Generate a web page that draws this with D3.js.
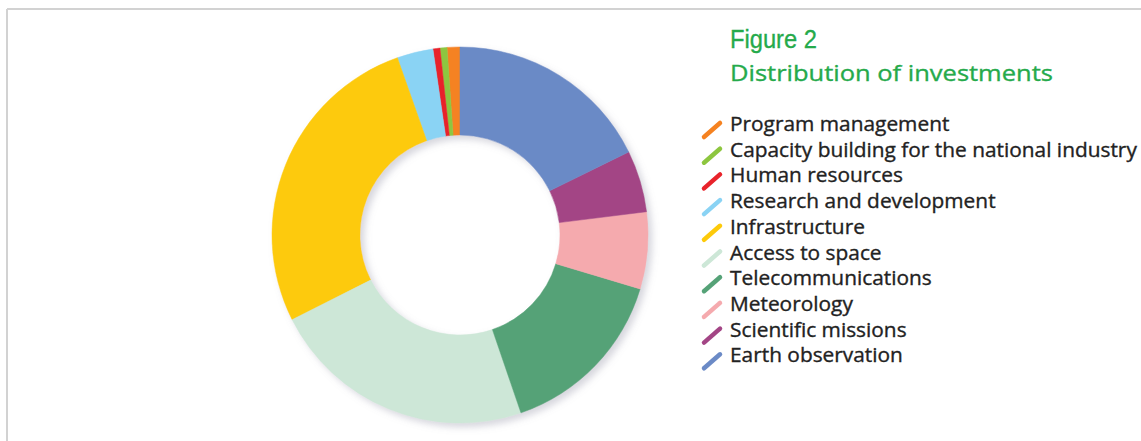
<!DOCTYPE html>
<html>
<head>
<meta charset="utf-8">
<script src="https://cdn.jsdelivr.net/npm/d3@7"></script>
<style>
  html, body { margin: 0; padding: 0; background: #fff; }
  svg { display: block; }
</style>
</head>
<body>
<svg id="chart" width="1141" height="441"></svg>
<script>
// ---- Data (legend order) ----
const categories = [
  "Program management",
  "Capacity building for the national industry",
  "Human resources",
  "Research and development",
  "Infrastructure",
  "Access to space",
  "Telecommunications",
  "Meteorology",
  "Scientific missions",
  "Earth observation"
];
const values = [1.1, 0.6, 0.6, 3.1, 27.0, 22.8, 15.1, 6.6, 5.3, 17.7];
const colors = ["#F58220", "#8DC63F", "#E8232B", "#8AD3F4", "#FDCA0A",
                "#CDE7D7", "#55A277", "#F5AAAE", "#A34585", "#6B8AC6"];
const titleLine1 = "Figure 2";
const titleLine2 = "Distribution of investments";

const svg = d3.select("#chart");

// frame lines
svg.append("line").attr("x1", 7).attr("y1", 9).attr("x2", 1141).attr("y2", 9)
  .attr("stroke", "#d2d2d2").attr("stroke-width", 2);
svg.append("line").attr("x1", 7).attr("y1", 9).attr("x2", 7).attr("y2", 441)
  .attr("stroke", "#d2d2d2").attr("stroke-width", 2);

// shadow filter
const defs = svg.append("defs");
const f = defs.append("filter").attr("id", "shadow")
  .attr("x", "-20%").attr("y", "-20%").attr("width", "140%").attr("height", "140%");
f.append("feDropShadow").attr("dx", 4).attr("dy", 4).attr("stdDeviation", 3.5)
  .attr("flood-color", "#8a8aa0").attr("flood-opacity", 0.35);

// donut: pie drawn clockwise from 12 o'clock in reverse legend order
const cx = 460, cy = 235, rOuter = 188, rInner = 100;
const data = categories.map((c, i) => ({ name: c, value: values[i], color: colors[i], idx: i }));
const pie = d3.pie().value(d => d.value).sort((a, b) => b.idx - a.idx);
const arc = d3.arc().innerRadius(rInner).outerRadius(rOuter);

const g = svg.append("g").attr("transform", `translate(${cx},${cy})`)
  .attr("filter", "url(#shadow)");
g.selectAll("path").data(pie(data)).join("path")
  .attr("d", arc)
  .attr("fill", d => d.data.color)
  .attr("stroke", d => d.data.color)
  .attr("stroke-width", 0.5);

// helper: horizontally fit a text element to a target width keeping glyph height
function fitX(sel, x, y, targetW) {
  const w = sel.node().getComputedTextLength();
  const k = w > 0 ? targetW / w : 1;
  sel.attr("x", 0).attr("y", 0)
    .attr("transform", `translate(${x},${y}) scale(${k},1)`);
}

// titles
const green = "#25AA4B";
const t1 = svg.append("text")
  .attr("font-family", "'Liberation Sans Narrow', 'Arial Narrow', 'Liberation Sans', sans-serif")
  .attr("font-size", 25).attr("fill", green)
  .attr("stroke", green).attr("stroke-width", 0.3)
  .text(titleLine1);
fitX(t1, 730, 48, 87);
const t2 = svg.append("text")
  .attr("font-family", "'Open Sans', 'Noto Sans', sans-serif")
  .attr("font-size", 22.5).attr("fill", green)
  .attr("stroke", green).attr("stroke-width", 0.35)
  .text(titleLine2);
fitX(t2, 730, 81, 323);

// legend
const legY0 = 131, legStep = 25.7;
const legend = svg.append("g");
const items = legend.selectAll("g").data(data).join("g")
  .attr("transform", (d, i) => `translate(0,${legY0 + i * legStep})`);
items.append("line")
  .attr("x1", 704).attr("y1", 6).attr("x2", 720).attr("y2", -8)
  .attr("stroke", d => d.color).attr("stroke-width", 4.5).attr("stroke-linecap", "round");
const texts = items.append("text")
  .attr("x", 0).attr("y", 0)
  .attr("font-family", "'Open Sans', 'Noto Sans', sans-serif")
  .attr("font-size", 19.5).attr("fill", "#222")
  .attr("stroke", "#222").attr("stroke-width", 0.35)
  .text(d => d.name);
// compress horizontally so the longest label spans the same width as in the reference
let maxW = 0;
texts.each(function() { maxW = Math.max(maxW, this.getComputedTextLength()); });
const kx = maxW > 0 ? 407 / maxW : 1;
texts.attr("transform", `translate(730,0) scale(${kx},1)`);
</script>
</body>
</html>
